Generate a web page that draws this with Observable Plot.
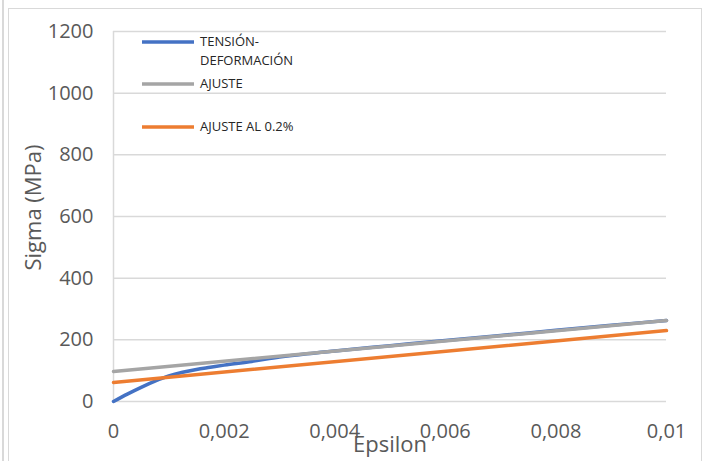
<!DOCTYPE html>
<html>
<head>
<meta charset="utf-8">
<script src="https://cdn.jsdelivr.net/npm/d3@7"></script>
<script src="https://cdn.jsdelivr.net/npm/@observablehq/plot@0.6"></script>
<style>
  html, body { margin: 0; padding: 0; background: #fff; }
  #wrap { position: relative; width: 706px; height: 461px; overflow: hidden; font-family: "Open Sans", sans-serif; }
  #frame { position: absolute; left: 8px; top: 8px; width: 694px; height: 470px; border: 1.5px solid #D9D9D9; box-sizing: border-box; }
  #edge { position: absolute; left: 2px; top: 0; width: 1.5px; height: 461px; background: #D9D9D9; }
  #chart { position: absolute; left: 0; top: 0; }
  #legend { position: absolute; left: 142px; top: 32px; font-size: 13px; color: #262626; line-height: 19px; }
  .item { position: absolute; left: 0; white-space: nowrap; }
  .item svg { position: absolute; left: 0; }
  .item span { position: absolute; left: 58px; }
</style>
</head>
<body>
<div id="wrap">
  <div id="edge"></div>
  <div id="frame"></div>
  <div id="chart"></div>
  <div id="legend"></div>
</div>
<script>
// Series names and colours
const seriesNames = ["TENSIÓN-DEFORMACIÓN", "AJUSTE", "AJUSTE AL 0.2%"];
const seriesColors = ["#4472C4", "#A5A5A5", "#ED7D31"];

// TENSIÓN-DEFORMACIÓN (blue)
const blueEps   = [0, 0.00025, 0.0005, 0.00075, 0.001, 0.00125, 0.0015, 0.00175, 0.002, 0.0025, 0.003, 0.0035, 0.004, 0.005, 0.006, 0.007, 0.008, 0.009, 0.01];
const blueSigma = [0, 24, 46, 66, 83, 95, 104, 111, 118, 130, 144, 155, 164, 181, 198, 214, 231, 247, 263];

// AJUSTE (gray)
const grayEps   = [0, 0.01];
const graySigma = [97.6, 262.5];

// AJUSTE AL 0.2% (orange)
const orangeEps   = [0, 0.01];
const orangeSigma = [62, 230];

// Ticks
const xTicks = [0, 0.002, 0.004, 0.006, 0.008, 0.01];
const yTicks = [0, 200, 400, 600, 800, 1000, 1200];

const toRows = (xs, ys) => xs.map((x, i) => ({x, y: ys[i]}));
const blue = toRows(blueEps, blueSigma);
const gray = toRows(grayEps, graySigma);
const orange = toRows(orangeEps, orangeSigma);

const fmtX = d => d === 0 ? "0" : String(+d.toFixed(4)).replace(".", ",");
const fmtY = d => String(d);

const chart = Plot.plot({
  width: 706,
  height: 461,
  marginLeft: 113,
  marginRight: 40,
  marginTop: 31,
  marginBottom: 60,
  style: {fontFamily: "Open Sans, sans-serif", background: "transparent", overflow: "visible"},
  x: {domain: [0, 0.01]},
  y: {domain: [0, 1200]},
  marks: [
    Plot.gridY(yTicks, {stroke: "#D9D9D9", strokeOpacity: 1, strokeWidth: 1.5}),
    Plot.ruleX([0], {stroke: "#D9D9D9", strokeWidth: 1.5}),
    Plot.axisY(yTicks, {tickSize: 0, tickPadding: 20, fontSize: 20, fill: "#595959", label: null, tickFormat: fmtY}),
    Plot.axisX(xTicks, {tickSize: 0, tickPadding: 22, fontSize: 20, fill: "#595959", label: null, tickFormat: fmtX}),
    Plot.line(blue, {x: "x", y: "y", stroke: seriesColors[0], strokeWidth: 3.5, curve: "monotone-x"}),
    Plot.line(gray, {x: "x", y: "y", stroke: seriesColors[1], strokeWidth: 3.5}),
    Plot.line(orange, {x: "x", y: "y", stroke: seriesColors[2], strokeWidth: 3.5}),
    Plot.text(["Sigma (MPa)"], {frameAnchor: "left", textAnchor: "middle", dx: -80, dy: -9, rotate: -90, fontSize: 22, fill: "#595959"}),
    Plot.text(["Epsilon"], {frameAnchor: "bottom", dy: 50, fontSize: 22, fill: "#595959"})
  ]
});
document.getElementById("chart").appendChild(chart);

// Legend
const legend = document.getElementById("legend");
const legendRows = [
  {lines: ["TENSIÓN-", "DEFORMACIÓN"], top: 0},
  {lines: ["AJUSTE"], top: 42},
  {lines: ["AJUSTE AL 0.2%"], top: 85}
];
legendRows.forEach((r, i) => {
  const it = document.createElement("div");
  it.className = "item";
  it.style.top = r.top + "px";
  it.innerHTML = `<svg width="54" height="19" style="top:0"><line x1="0" x2="52" y1="10" y2="10" stroke="${seriesColors[i]}" stroke-width="3.5"/></svg><span>${r.lines.join("<br>")}</span>`;
  legend.appendChild(it);
});
</script>
</body>
</html>
